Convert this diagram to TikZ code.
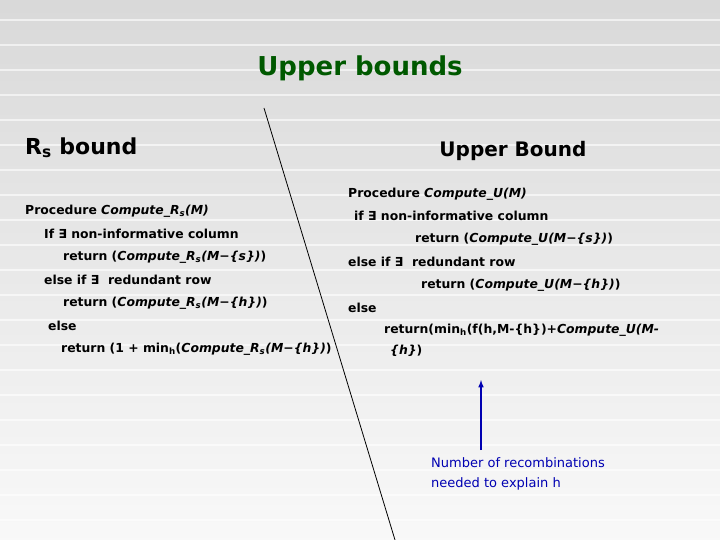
\documentclass[tikz,border=0pt]{standalone}
\usepackage{fontspec}
\setmainfont{DejaVu Sans}
\begin{document}
\begin{tikzpicture}[x=1pt,y=-1pt,
  code/.style={anchor=west,inner sep=0pt,font=\bfseries\fontsize{12.4}{14}\selectfont},
  head/.style={inner sep=0pt,font=\bfseries\fontsize{26}{30}\selectfont}]
\useasboundingbox (0,0) rectangle (720,540);
\shade[top color=gray!30,bottom color=gray!5] (0,0) rectangle (720,540);
\foreach \y in {20,45,...,540} \draw[white,line width=2pt,opacity=0.6] (0,\y) -- (720,\y);
\node[head,text=green!35!black] (title) at (360,68) {Upper bounds};
\node[head,anchor=west,font=\bfseries\fontsize{22}{26}\selectfont] (rs) at (25,148) {R\textsubscript{s} bound};
\node[head,font=\bfseries\fontsize{20}{24}\selectfont] (ub) at (513,151) {Upper Bound};
\coordinate (l1) at (264,108); \coordinate (l2) at (395,540);
\draw[black,line width=0.8pt] (l1) -- (l2);
\node[code] (a1) at (25,211) {Procedure \textit{Compute\_R\textsubscript{s}(M)}};
\node[code] (a2) at (44,234) {If ∃ non-informative column};
\node[code] (a3) at (63,257) {return (\textit{Compute\_R\textsubscript{s}(M−\{s\})})};
\node[code] (a4) at (44,280) {else if ∃ \ redundant row};
\node[code] (a5) at (63,303) {return (\textit{Compute\_R\textsubscript{s}(M−\{h\})})};
\node[code] (a6) at (48,326) {else};
\node[code] (a7) at (61,349) {return (1 + min\textsubscript{h}(\textit{Compute\_R\textsubscript{s}(M−\{h\})})};
\node[code] (b1) at (348,194) {Procedure \textit{Compute\_U(M)}};
\node[code] (b2) at (354,216) {if ∃ non-informative column};
\node[code] (b3) at (415,239) {return (\textit{Compute\_U(M−\{s\})})};
\node[code] (b4) at (348,262) {else if ∃ \ redundant row};
\node[code] (b5) at (421,285) {return (\textit{Compute\_U(M−\{h\})})};
\node[code] (b6) at (348,308) {else};
\node[code] (b7) at (384,330) {return(min\textsubscript{h}(f(h,M-\{h\})+\textit{Compute\_U(M-}};
\node[code] (b8) at (390,351) {\textit{\{h\}})};
\node[code,text=blue!70!black,align=left,anchor=north west,font=\fontsize{13}{20}\selectfont] (note) at (431,457) {Number of recombinations\\needed to explain h};
\coordinate (tip) at (481,380);
\draw[blue!70!black,line width=1.5pt,-latex] (481,450) -- (tip);
\end{tikzpicture}
\end{document}
